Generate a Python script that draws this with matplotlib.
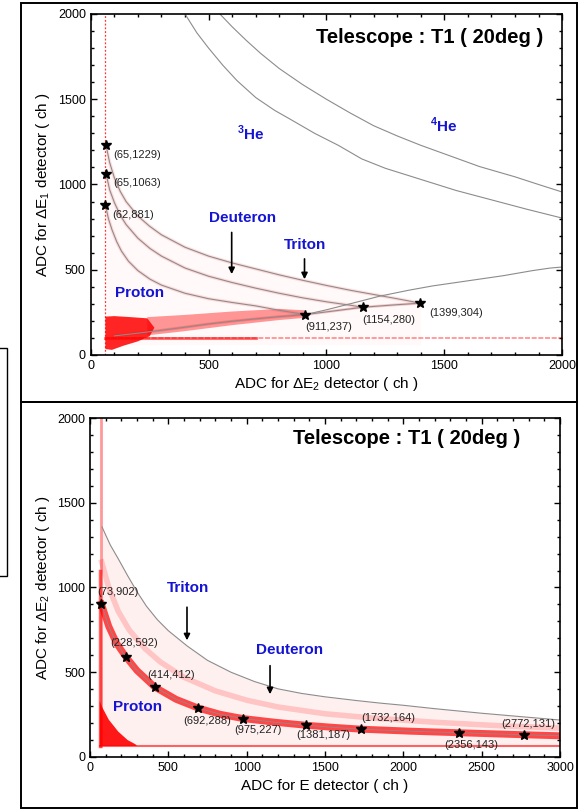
import numpy as np
import matplotlib.pyplot as plt
from matplotlib.patches import Rectangle, Polygon
from matplotlib.ticker import MultipleLocator

plt.rcParams['font.family'] = ['Liberation Sans', 'DejaVu Sans']
plt.rcParams['mathtext.fontset'] = 'custom'
plt.rcParams['mathtext.rm'] = 'Liberation Sans'
plt.rcParams['mathtext.bf'] = 'Liberation Sans:bold'

# ---- dE1 vs dE2 (upper plot) ----
# calibration points (ch)
cal1_x = [65, 65, 62, 911, 1154, 1399]
cal1_y = [1229, 1063, 881, 237, 280, 304]
cal1_off = [(5, -7), (5, -7), (5, -7), (0, -9), (0, -9), (6, -7)]

# PID boundary lines
triton1_x = [65, 80, 100, 125, 150, 200, 250, 300, 400, 500, 600, 700, 800, 900,
             1000, 1100, 1200, 1300, 1399]
triton1_y = [1229, 1130, 1040, 960, 900, 815, 755, 705, 632, 580, 540, 505, 470, 438,
             408, 380, 355, 330, 304]
deut1_x = [65, 80, 100, 125, 150, 200, 251, 300, 400, 500, 600, 700, 800, 900,
           1000, 1100, 1154]
deut1_y = [1063, 970, 895, 820, 765, 685, 625, 580, 510, 462, 425, 392, 362, 335,
           312, 292, 280]
prot1_x = [62, 75, 90, 110, 130, 160, 200, 251, 300, 400, 500, 600, 700, 800, 911]
prot1_y = [881, 800, 735, 665, 610, 550, 495, 445, 410, 362, 330, 308, 288, 262, 237]
punch_x = [100, 200, 300, 400, 500, 600, 700, 800, 911, 1030, 1154, 1280, 1399]
punch_y = [112, 128, 145, 163, 182, 198, 212, 225, 237, 258, 280, 293, 304]
rise_x = [911, 1000, 1100, 1226, 1350, 1450, 1550, 1650, 1750, 1875, 1950, 2000]
rise_y = [237, 265, 300, 345, 380, 405, 425, 445, 465, 495, 510, 516]
he3_x = [400, 450, 500, 560, 620, 700, 780, 850, 950, 1050, 1150, 1250, 1400,
         1550, 1700, 1850, 2000]
he3_y = [2000, 1890, 1800, 1700, 1610, 1510, 1435, 1380, 1300, 1230, 1150, 1095,
         1030, 965, 910, 855, 803]
he4_x = [548, 600, 660, 720, 800, 900, 1000, 1100, 1200, 1300, 1400, 1500, 1650,
         1800, 1900, 2000]
he4_y = [2000, 1925, 1845, 1770, 1680, 1585, 1500, 1420, 1345, 1285, 1230, 1180,
         1105, 1045, 1000, 956]

# dense proton locus near the origin
blob1_x = [62, 62, 100, 170, 240, 270, 250, 200, 140, 90]
blob1_y = [35, 225, 228, 222, 215, 160, 110, 80, 55, 30]
band1_x = [240, 400, 600, 800, 911, 911, 800, 600, 400, 240]
band1_y = [222, 235, 255, 270, 262, 218, 205, 175, 140, 115]

# ---- dE2 vs E (lower plot) ----
cal2_x = [73, 228, 414, 692, 975, 1381, 1732, 2356, 2772]
cal2_y = [902, 592, 412, 288, 227, 187, 164, 143, 131]
cal2_off = [(12, 9), (6, 10), (12, 9), (6, -9), (11, -8), (12, -7), (19, 8), (9, -9), (3, 8)]

prot2_x = [73, 120, 170, 228, 300, 414, 550, 692, 830, 975, 1180, 1381, 1550,
           1732, 2050, 2356, 2772, 3000]
prot2_y = [902, 770, 670, 592, 510, 412, 340, 288, 252, 227, 205, 187, 175,
           164, 152, 143, 131, 125]
triton2_x = [77, 100, 130, 180, 240, 300, 360, 430, 500, 620, 750, 900, 1050,
             1200, 1350, 1500, 1700, 1850, 2000, 2200, 2500, 2750, 3000]
triton2_y = [1357, 1310, 1250, 1170, 1070, 975, 890, 810, 745, 655, 570, 500, 445,
             402, 375, 355, 333, 318, 305, 285, 258, 238, 218]
deut2_x = [75, 120, 180, 250, 350, 450, 600, 800, 1000, 1200, 1500, 1800, 2200,
           2600, 3000]
deut2_y = [1150, 1000, 860, 750, 640, 560, 470, 390, 335, 295, 255, 230, 205,
           185, 170]

tri2_x = [62, 62, 80, 120, 180, 240, 290, 300, 80]
tri2_y = [65, 330, 290, 220, 150, 100, 75, 65, 65]

he_color = '#8c8c8c'
red = '#ff0000'
blue = '#1414d2'
lab_kw = dict(color=blue, fontsize=11, fontweight='bold', ha='center', va='center')
arr_kw = dict(arrowstyle='-|>', color='black', lw=1.2, mutation_scale=9)

fig = plt.figure(figsize=(5.78, 8.09), dpi=100)

# panel frames
fig.patches.append(Rectangle((21 / 578, 1 - 402 / 809), 556 / 578, 399 / 809,
                             transform=fig.transFigure, fill=False, lw=1.4, ec='black'))
fig.patches.append(Rectangle((21 / 578, 1 - 808 / 809), 556 / 578, 406 / 809,
                             transform=fig.transFigure, fill=False, lw=1.4, ec='black'))
fig.patches.append(Rectangle((-0.01, 1 - 576 / 809), 12.5 / 578, 228 / 809,
                             transform=fig.transFigure, fill=False, lw=1.0, ec='black'))

ax1 = fig.add_axes([0.157, 0.5612, 0.8155, 0.4215])
ax2 = fig.add_axes([0.1557, 0.0643, 0.8133, 0.419])


def style(ax, xmax):
    ax.set_xlim(0, xmax)
    ax.set_ylim(0, 2000)
    ax.xaxis.set_major_locator(MultipleLocator(500))
    ax.xaxis.set_minor_locator(MultipleLocator(100))
    ax.yaxis.set_major_locator(MultipleLocator(500))
    ax.yaxis.set_minor_locator(MultipleLocator(100))
    ax.tick_params(which='both', direction='in', top=True, right=True,
                   labeltop=False, labelright=False, labelsize=9, width=1)
    ax.tick_params(which='major', length=4)
    ax.tick_params(which='minor', length=2.5)
    for s in ax.spines.values():
        s.set_linewidth(1.2)


style(ax1, 2000)
style(ax2, 3000)

# --- upper plot ---
ax1.axvline(62, color=red, lw=0.9, ls=(0, (1.5, 1.5)), alpha=0.8)
ax1.fill_between(triton1_x, 60, triton1_y, color=red, alpha=0.025, lw=0)
ax1.plot([62, 2000], [100, 100], color=red, lw=1.2, ls=(0, (3, 1)), alpha=0.45)
ax1.plot([62, 700], [100, 100], color=red, lw=2, alpha=0.6)
for xs, ys in [(prot1_x, prot1_y), (deut1_x, deut1_y), (triton1_x, triton1_y)]:
    ax1.plot(xs, ys, color=red, lw=2.5, alpha=0.12)
ax1.add_patch(Polygon(np.column_stack([band1_x, band1_y]), closed=True,
                      fc=red, ec='none', alpha=0.4))
ax1.add_patch(Polygon(np.column_stack([blob1_x, blob1_y]), closed=True,
                      fc=red, ec='none', alpha=0.85))
ax1.plot(punch_x, punch_y, color=red, lw=2, alpha=0.2)

for xs, ys in [(triton1_x, triton1_y), (deut1_x, deut1_y), (prot1_x, prot1_y),
               (punch_x, punch_y), (rise_x, rise_y), (he3_x, he3_y), (he4_x, he4_y)]:
    ax1.plot(xs, ys, color=he_color, lw=0.8)

ax1.plot(cal1_x, cal1_y, ls='none', marker='*', ms=7, color='black')
for x, y, (dx, dy) in zip(cal1_x, cal1_y, cal1_off):
    ax1.annotate(f'({x},{y})', (x, y), xytext=(dx, dy), textcoords='offset points',
                 fontsize=8, color='#222222', ha='left', va='center')

ax1.text(209, 363, 'Proton', **lab_kw)
ax1.text(645, 803, 'Deuteron', **lab_kw)
ax1.text(908, 645, 'Triton', **lab_kw)
ax1.text(681, 1300, r'$^{\mathbf{3}}$He', **lab_kw)
ax1.text(1500, 1349, r'$^{\mathbf{4}}$He', **lab_kw)
ax1.annotate('', xy=(598, 458), xytext=(598, 735), arrowprops=arr_kw)
ax1.annotate('', xy=(907, 428), xytext=(907, 580), arrowprops=arr_kw)
ax1.text(0.96, 0.93, 'Telescope : T1 ( 20deg )', transform=ax1.transAxes,
         fontsize=14.5, fontweight='bold', ha='right', va='center')
ax1.set_xlabel(r'ADC for $\Delta$E$_2$ detector ( ch )', fontsize=11, labelpad=2)
ax1.set_ylabel(r'ADC for $\Delta$E$_1$ detector ( ch )', fontsize=11, labelpad=4)

# --- lower plot ---
ax2.fill_between(triton2_x, 65, triton2_y, color=red, alpha=0.06, lw=0)
ax2.plot([70, 70], [65, 2000], color=red, lw=2, alpha=0.4)
ax2.plot([66, 66], [65, 1100], color=red, lw=2.5, alpha=0.6)
ax2.add_patch(Polygon(np.column_stack([tri2_x, tri2_y]), closed=True,
                      fc=red, ec='none', alpha=0.9))
ax2.plot([62, 3000], [65, 65], color=red, lw=1.5, alpha=0.6)
ax2.plot(deut2_x, deut2_y, color=red, lw=4, alpha=0.18)
ax2.plot(prot2_x, prot2_y, color=red, lw=5, alpha=0.7)
ax2.plot(triton2_x, triton2_y, color=he_color, lw=0.8)
ax2.plot(prot2_x, prot2_y, color=he_color, lw=0.6)

ax2.plot(cal2_x, cal2_y, ls='none', marker='*', ms=7, color='black')
for x, y, (dx, dy) in zip(cal2_x, cal2_y, cal2_off):
    ax2.annotate(f'({x},{y})', (x, y), xytext=(dx, dy), textcoords='offset points',
                 fontsize=8, color='#222222', ha='center', va='center')

ax2.text(306, 295, 'Proton', **lab_kw)
ax2.text(627, 997, 'Triton', **lab_kw)
ax2.text(1271, 631, 'Deuteron', **lab_kw)
ax2.annotate('', xy=(619, 672), xytext=(619, 900), arrowprops=arr_kw)
ax2.annotate('', xy=(1149, 354), xytext=(1149, 555), arrowprops=arr_kw)
ax2.text(0.915, 0.94, 'Telescope : T1 ( 20deg )', transform=ax2.transAxes,
         fontsize=14.5, fontweight='bold', ha='right', va='center')
ax2.set_xlabel('ADC for E detector ( ch )', fontsize=11, labelpad=4)
ax2.set_ylabel(r'ADC for $\Delta$E$_2$ detector ( ch )', fontsize=11, labelpad=4)

fig.savefig('out.png', dpi=100)
